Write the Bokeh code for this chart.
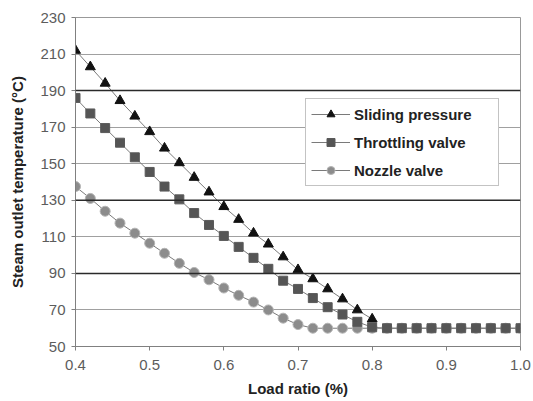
from bokeh.plotting import figure
from bokeh.models import Range1d, FixedTicker, Span, Legend, LegendItem, NumeralTickFormatter
from bokeh.embed import file_html
from bokeh.resources import INLINE

# ---- data ----
load_sliding = [0.40, 0.42, 0.44, 0.46, 0.48, 0.50, 0.52, 0.54, 0.56, 0.58,
                0.60, 0.62, 0.64, 0.66, 0.68, 0.70, 0.72, 0.74, 0.76, 0.78, 0.80]
temp_sliding = [212, 203, 194, 184.5, 176, 167.5, 158.5, 150.5, 142.5, 134.5,
                126.5, 119.5, 112, 106, 99, 92, 87, 81.5, 76, 70, 65]

load_all = [0.40, 0.42, 0.44, 0.46, 0.48, 0.50, 0.52, 0.54, 0.56, 0.58,
            0.60, 0.62, 0.64, 0.66, 0.68, 0.70, 0.72, 0.74, 0.76, 0.78,
            0.80, 0.82, 0.84, 0.86, 0.88, 0.90, 0.92, 0.94, 0.96, 0.98, 1.00]
temp_throttling = [186, 177.5, 169.5, 161.5, 153.5, 145.5, 137.5, 130.5, 123, 116.5,
                   110.5, 104.5, 98.5, 92.5, 86, 81.5, 76.5, 71.5, 67.5, 63.5,
                   60.5, 60, 60, 60, 60, 60, 60, 60, 60, 60, 60]
temp_nozzle = [137.5, 131, 124, 117.5, 112, 106.5, 101, 95.5, 90.5, 86.5,
               82, 78, 74.3, 70, 65.5, 62, 60, 60, 60, 60,
               60, 60, 60, 60, 60, 60, 60, 60, 60, 60, 60]

x_ticks = [0.4, 0.5, 0.6, 0.7, 0.8, 0.9, 1.0]
y_ticks = [50, 70, 90, 110, 130, 150, 170, 190, 210, 230]
dark_grid = [90, 130, 190]

FONT = "Liberation Sans"

p = figure(width=533, height=401, output_backend="svg", toolbar_location=None,
           x_range=Range1d(0.4, 1.0), y_range=Range1d(50, 230),
           min_border_left=75, min_border_top=17, min_border_right=13, min_border_bottom=55)
p.background_fill_color = "white"
p.border_fill_color = "white"
p.outline_line_color = "#999999"
p.outline_line_width = 1

# grid
p.xgrid.visible = False
p.ygrid.ticker = FixedTicker(ticks=y_ticks)
p.ygrid.grid_line_color = "#a0a0a0"
p.ygrid.grid_line_width = 1
for yv in dark_grid:
    p.add_layout(Span(location=yv, dimension="width", line_color="#2a2a2a", line_width=1.5))

# axes
p.xaxis.ticker = FixedTicker(ticks=x_ticks)
p.xaxis.formatter = NumeralTickFormatter(format="0.0")
p.yaxis.ticker = FixedTicker(ticks=y_ticks)
for ax in (p.xaxis[0], p.yaxis[0]):
    ax.axis_line_color = "#808080"
    ax.major_tick_line_color = "#808080"
    ax.major_tick_out = 4
    ax.major_tick_in = 0
    ax.minor_tick_line_color = None
    ax.major_label_text_font = FONT
    ax.major_label_text_font_size = "15px"
    ax.major_label_text_color = "#5c5c5c"
    ax.axis_label_text_font = FONT
    ax.axis_label_text_font_size = "15px"
    ax.axis_label_text_font_style = "bold"
    ax.axis_label_text_color = "#222222"
p.xaxis.axis_label = "Load ratio (%)"
p.yaxis.axis_label = "Steam outlet temperature (\u00b0C)"
p.xaxis.major_label_standoff = 9
p.xaxis.axis_label_standoff = 7
p.yaxis.major_label_standoff = 6
p.yaxis.axis_label_standoff = 11

line_col = "#7a7a7a"

# nozzle valve (drawn first, underneath)
nl = p.line(load_all, temp_nozzle, line_color=line_col, line_width=1)
ns = p.scatter(load_all, temp_nozzle, marker="circle", size=10,
               fill_color="#8c8c8c", line_color="#b5b5b5", line_width=1)
# sliding pressure
sl = p.line(load_sliding, temp_sliding, line_color=line_col, line_width=1)
ss = p.scatter(load_sliding, temp_sliding, marker="triangle", size=10,
               fill_color="#111111", line_color="#111111")
# throttling valve
tl = p.line(load_all, temp_throttling, line_color=line_col, line_width=1)
ts = p.scatter(load_all, temp_throttling, marker="square", size=9,
               fill_color="#555555", line_color="#5a5a5a")

legend = Legend(items=[
    LegendItem(label="Sliding pressure", renderers=[sl, ss]),
    LegendItem(label="Throttling valve", renderers=[tl, ts]),
    LegendItem(label="Nozzle valve", renderers=[nl, ns]),
], location=(230, 160))
legend.label_text_font = FONT
legend.label_text_font_size = "15px"
legend.label_text_font_style = "bold"
legend.label_text_color = "#222222"
legend.glyph_width = 39
legend.glyph_height = 20
legend.spacing = 8
legend.padding = 5
legend.margin = 0
legend.label_standoff = 4
legend.label_width = 139
legend.border_line_color = "#888888"
legend.border_line_width = 1
legend.background_fill_color = "white"
legend.background_fill_alpha = 1
p.add_layout(legend, "center")

open("out.html", "w").write(file_html(p, INLINE))
